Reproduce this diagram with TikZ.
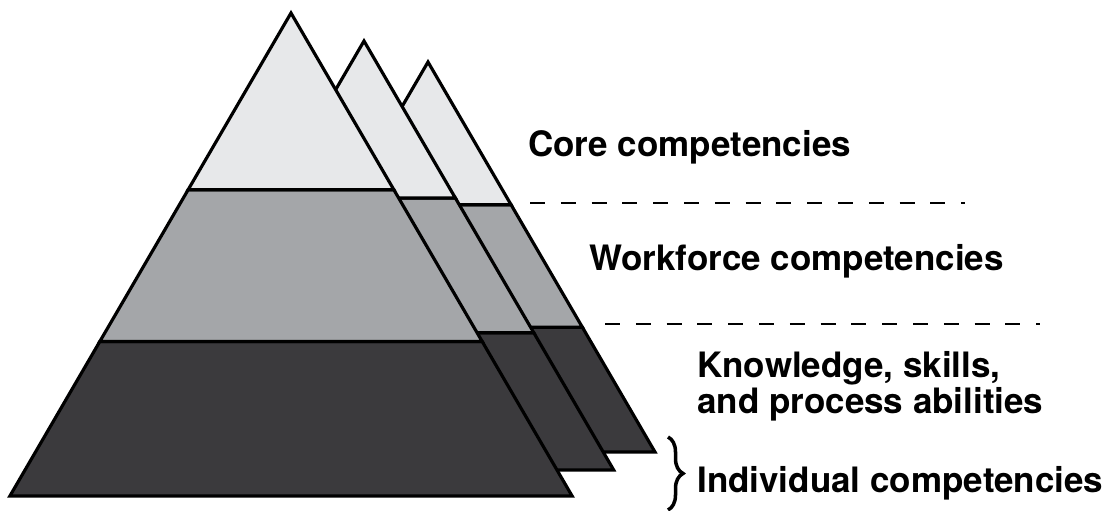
\documentclass[tikz,border=0pt]{standalone}
\usepackage{fontspec}
\setmainfont{TeX Gyre Heros}
\usepackage{tikz}
\usetikzlibrary{decorations.pathreplacing}
\definecolor{corelight}{RGB}{231,232,234}
\definecolor{workgray}{RGB}{164,166,169}
\definecolor{skilldark}{RGB}{59,58,61}

\begin{document}
\begin{tikzpicture}[
    band/.style={draw=black, line width=1.8pt},
    divider/.style={black, line width=1.4pt, dash pattern=on 0.3cm off 0.316cm},
    lbl/.style={font=\fontsize{19.9}{20.5}\selectfont\bfseries, inner sep=0pt, align=left}
]
    \useasboundingbox (0,0) rectangle (22.4,10.22);

    % Three pyramids, back one first
    \foreach \ax/\ay/\h in {8.56/8.98/7.80, 7.28/9.40/8.58, 5.82/9.96/9.66} {
        \pgfmathsetmacro{\w}{0.582*\h}
        \pgfmathsetmacro{\wa}{0.582*0.366*\h}
        \pgfmathsetmacro{\wb}{0.582*0.68*\h}
        \pgfmathsetmacro{\ya}{\ay-0.366*\h}
        \pgfmathsetmacro{\yb}{\ay-0.68*\h}
        \pgfmathsetmacro{\yc}{\ay-\h}
        % bottom band
        \draw[band, fill=skilldark] (\ax-\wb,\yb) -- (\ax+\wb,\yb) -- (\ax+\w,\yc) -- (\ax-\w,\yc) -- cycle;
        % middle band
        \draw[band, fill=workgray] (\ax-\wa,\ya) -- (\ax+\wa,\ya) -- (\ax+\wb,\yb) -- (\ax-\wb,\yb) -- cycle;
        % top band
        \draw[band, fill=corelight] (\ax,\ay) -- (\ax+\wa,\ya) -- (\ax-\wa,\ya) -- cycle;
    }

    % Dashed separators
    \draw[divider] (10.6,6.16) -- (19.29,6.16);
    \draw[divider] (12.1,3.74) -- (20.79,3.74);

    % Labels
    \node[lbl, anchor=base west] (core) at (10.56,7.08) {Core competencies};
    \node[lbl, anchor=base west] (workforce) at (11.78,4.80) {Workforce competencies};
    \node[lbl, anchor=base west] (knowledge) at (13.94,1.94) {Knowledge, skills,\\and process abilities};
    \node[lbl, anchor=base west] (individual) at (13.94,0.36) {Individual competencies};

    % Brace
    \draw[line width=2pt, decorate, decoration={brace, amplitude=0.3cm}] (13.36,1.48) -- (13.36,0.02);

\end{tikzpicture}
\end{document}
